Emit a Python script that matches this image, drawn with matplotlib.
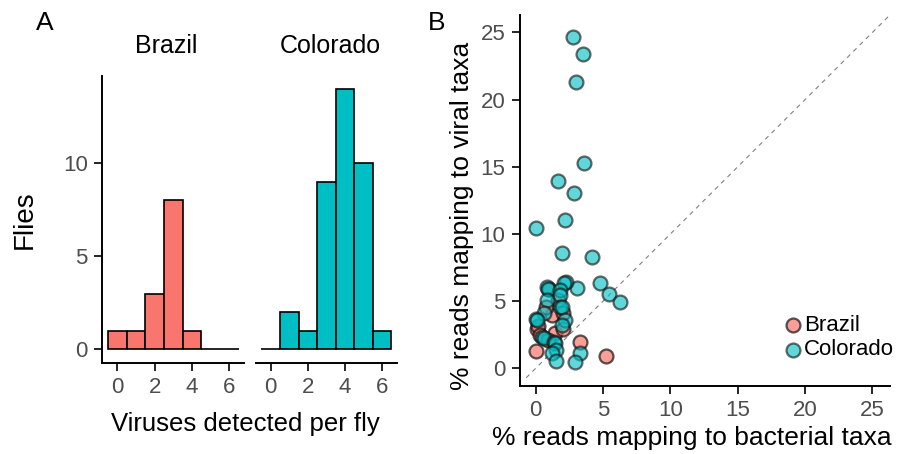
import matplotlib.pyplot as plt

plt.rcParams['font.family'] = ['Liberation Sans', 'DejaVu Sans']

# histogram data: number of viruses detected per fly
virus_bins = [0, 1, 2, 3, 4, 5, 6]
brazil_counts = [1, 1, 3, 8, 1, 0, 0]
colorado_counts = [0, 2, 1, 9, 14, 10, 1]

# scatter data: % reads bacterial (x) vs viral (y)
brazil_bact = [0.0, 3.29, 5.22, 0.07, 0.2, 1.19, 1.44, 0.32, 0.94, 1.0, 1.68, 2.05, 0.8, 2.0]
brazil_vir = [1.29, 1.99, 0.92, 2.9, 3.15, 3.97, 2.6, 2.48, 2.1, 5.9, 5.1, 4.1, 4.6, 2.9]
colorado_bact = [2.77, 3.49, 2.97, 3.59, 1.68, 2.87, 2.20, 0.02, 1.98, 4.16, 4.78, 5.45, 6.26,
                 3.04, 2.23, 2.10, 0.87, 0.94, 1.81, 1.81, 0.87, 1.81, 1.93, 0.62, 0.02, 0.12,
                 2.18, 1.93, 0.50, 0.62, 1.36, 1.44, 1.49, 1.24, 3.29, 1.49, 2.92]
colorado_vir = [24.64, 23.42, 21.29, 15.31, 13.92, 13.08, 11.07, 10.42, 8.59, 8.31, 6.38, 5.53, 4.91,
                5.98, 6.45, 6.38, 6.03, 5.93, 5.83, 5.46, 5.09, 4.54, 4.59, 4.09, 3.67, 3.60,
                3.60, 3.23, 2.36, 2.23, 1.99, 1.86, 1.36, 1.17, 1.12, 0.55, 0.45]

red = '#F8766D'
teal = '#00BFC4'
grey = '#4D4D4D'

W, H = 898, 454
fig = plt.figure(figsize=(W / 100, H / 100), dpi=100)

ax_br = fig.add_axes([0.114, 0.201, 0.158, 0.632])
ax_co = fig.add_axes([0.285, 0.201, 0.157, 0.632])
ax_sc = fig.add_axes([0.579, 0.150, 0.412, 0.817])


def style(ax):
    for s in ['top', 'right']:
        ax.spines[s].set_visible(False)
    for s in ['left', 'bottom']:
        ax.spines[s].set_linewidth(1.4)
        ax.spines[s].set_color('black')
    ax.tick_params(direction='out', length=5.5, width=1.2, colors='black',
                   labelcolor=grey, labelsize=16, pad=5)


for ax, counts, col in [(ax_br, brazil_counts, red), (ax_co, colorado_counts, teal)]:
    ax.bar(virus_bins, counts, width=1, color=col, edgecolor='black', linewidth=1.2)
    ax.set_xlim(-0.8, 6.8)
    ax.set_ylim(-0.72, 14.7)
    ax.set_xticks([0, 2, 4, 6])
    ax.set_yticks([0, 5, 10])
    style(ax)

ax_co.spines['left'].set_visible(False)
ax_co.tick_params(axis='y', left=False, labelleft=False)

fig.text(166 / W, 1 - 46 / H, 'Brazil', fontsize=18, ha='center', va='center')
fig.text(330 / W, 1 - 46 / H, 'Colorado', fontsize=18, ha='center', va='center')
fig.text(25 / W, 1 - 220 / H, 'Flies', fontsize=20, rotation=90, ha='center', va='center')
fig.text(245 / W, 1 - 424 / H, 'Viruses detected per fly', fontsize=18.5, ha='center', va='center')

# scatter panel
ax_sc.plot([-0.7, 26.3], [-0.7, 26.3], ls=(0, (4, 4)), color='grey', lw=0.8, zorder=1)
ax_sc.scatter(brazil_bact, brazil_vir, s=100, color=red, alpha=0.7, edgecolor='#111111',
              linewidth=1.6, label='Brazil', zorder=2)
ax_sc.scatter(colorado_bact, colorado_vir, s=100, color=teal, alpha=0.62, edgecolor='#111111',
              linewidth=1.6, label='Colorado', zorder=3)
ax_sc.set_xlim(-1.16, 26.3)
ax_sc.set_ylim(-1.3, 26.3)
ax_sc.set_xticks([0, 5, 10, 15, 20, 25])
ax_sc.set_yticks([0, 5, 10, 15, 20, 25])
style(ax_sc)

fig.text(692 / W, 1 - 438 / H, '% reads mapping to bacterial taxa', fontsize=19,
         ha='center', va='center')
fig.text(462 / W, 1 - 216 / H, '% reads mapping to viral taxa', fontsize=19,
         rotation=90, ha='center', va='center')

ax_sc.legend(loc='upper left', bbox_to_anchor=(782 / W, 1 - 315 / H), bbox_transform=fig.transFigure,
             frameon=False, fontsize=16, handlelength=1.0, handletextpad=0.0,
             labelspacing=0.15, borderaxespad=0, borderpad=0)

fig.text(36 / W, 1 - 11 / H, 'A', fontsize=19, va='top')
fig.text(428 / W, 1 - 11 / H, 'B', fontsize=19, va='top')

fig.savefig('out.png', dpi=100)
